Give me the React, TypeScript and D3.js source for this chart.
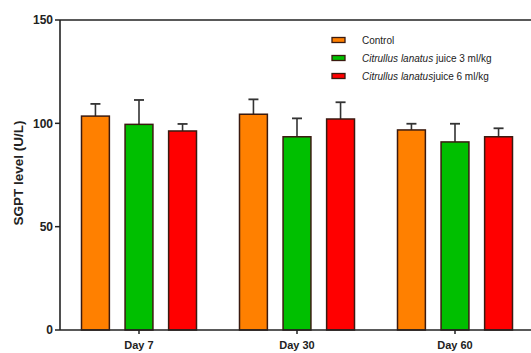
import React from "react";
import * as d3 from "d3";

const days = ["Day 7", "Day 30", "Day 60"];
const groups = ["Control", "Juice3", "Juice6"];
const controlMeans = [103.5, 104.4, 96.8];
const controlErr = [5.9, 7.2, 3.0];
const juice3Means = [99.5, 93.5, 91.0];
const juice3Err = [11.8, 8.9, 8.8];
const juice6Means = [96.3, 102.1, 93.5];
const juice6Err = [3.4, 8.1, 4.1];
const yTicks = [0, 50, 100, 150];
const colors = ["#ff8000", "#00bf00", "#ff0000"];

const W = 531;
const H = 353;
const left = 60;
const right = 534;
const top = 20;
const bottom = 330;

export default function App() {
  const y = d3.scaleLinear().domain([0, 150]).range([bottom, top]);
  const x0 = d3.scaleBand().domain(days).range([left, right]).paddingInner(0).paddingOuter(0);
  const x1 = d3
    .scaleBand()
    .domain(groups)
    .range([x0.bandwidth() / 2 - 57.5, x0.bandwidth() / 2 + 57.5])
    .paddingInner(0.36)
    .paddingOuter(0);

  const series = [
    { means: controlMeans, errs: controlErr },
    { means: juice3Means, errs: juice3Err },
    { means: juice6Means, errs: juice6Err },
  ];

  const legend = [
    { label: [{ t: "Control", i: false }] },
    { label: [{ t: "Citrullus lanatus", i: true }, { t: " juice 3 ml/kg", i: false }] },
    { label: [{ t: "Citrullus lanatus", i: true }, { t: "juice 6 ml/kg", i: false }] },
  ];

  const axisColor = "#222";
  const font = "'Liberation Sans', Arial, sans-serif";

  return (
    <svg
      width={W}
      height={H}
      style={{ position: "absolute", left: 0, top: 0, background: "#fff" }}
      fontFamily={font}
    >
      {/* bars with error bars */}
      {days.map((d, di) => (
        <g key={d} transform={`translate(${x0(d)},0)`}>
          {series.map((s, si) => {
            const bx = x1(groups[si])!;
            const bw = x1.bandwidth();
            const m = s.means[di];
            const e = s.errs[di];
            const cx = bx + bw / 2;
            return (
              <g key={si}>
                <line x1={cx} x2={cx} y1={y(m)} y2={y(m + e)} stroke="#333" strokeWidth={1.6} />
                <line x1={cx - 5} x2={cx + 5} y1={y(m + e)} y2={y(m + e)} stroke="#333" strokeWidth={1.8} />
                <rect
                  x={bx}
                  y={y(m)}
                  width={bw}
                  height={y(0) - y(m)}
                  fill={colors[si]}
                  stroke="#3a1a10"
                  strokeWidth={1.5}
                />
              </g>
            );
          })}
        </g>
      ))}

      {/* frame top */}
      <line x1={left} x2={W} y1={top} y2={top} stroke={axisColor} strokeWidth={1.6} />
      {/* y axis */}
      <line x1={left} x2={left} y1={top} y2={bottom} stroke={axisColor} strokeWidth={1.6} />
      {yTicks.map((t) => (
        <g key={t}>
          <line x1={left - 5} x2={left} y1={y(t)} y2={y(t)} stroke={axisColor} strokeWidth={1.5} />
          <text
            x={left - 7}
            y={y(t)}
            dy="0.35em"
            textAnchor="end"
            fontSize={12}
            fontWeight="bold"
            fill="#222"
          >
            {t}
          </text>
        </g>
      ))}
      <text
        transform={`translate(23,173) rotate(-90)`}
        textAnchor="middle"
        fontSize={13.5}
        fontWeight="bold"
        fill="#222"
      >
        SGPT level (U/L)
      </text>

      {/* x axis */}
      <line x1={left} x2={W} y1={bottom} y2={bottom} stroke={axisColor} strokeWidth={1.6} />
      {days.map((d) => {
        const cx = x0(d)! + x0.bandwidth() / 2;
        return (
          <g key={d}>
            <line x1={cx} x2={cx} y1={bottom} y2={bottom + 4} stroke={axisColor} strokeWidth={1.5} />
            <text x={cx} y={bottom + 19} textAnchor="middle" fontSize={11} fontWeight="bold" fill="#222">
              {d}
            </text>
          </g>
        );
      })}

      {/* legend */}
      {legend.map((l, i) => {
        const ly = 40 + i * 18;
        return (
          <g key={i}>
            <rect x={332} y={ly - 2.5} width={13} height={5} fill={colors[i]} stroke="#3a1a10" strokeWidth={1.3} />
            <text x={362} y={ly} dy="0.35em" fontSize={10} fill="#222">
              {l.label.map((p, pi) => (
                <tspan key={pi} fontStyle={p.i ? "italic" : "normal"}>
                  {p.t}
                </tspan>
              ))}
            </text>
          </g>
        );
      })}
    </svg>
  );
}
